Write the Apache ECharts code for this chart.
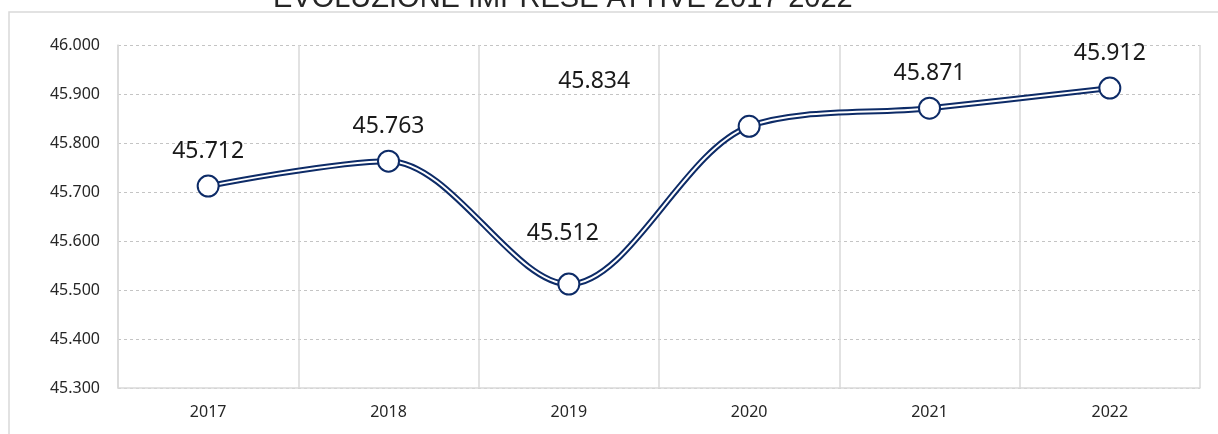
<!DOCTYPE html>
<html>
<head>
<meta charset="utf-8">
<script src="https://cdn.jsdelivr.net/npm/echarts@6/dist/echarts.min.js"></script>
<style>
  html, body { margin: 0; padding: 0; background: #fff; }
  #chart { width: 1218px; height: 434px; }
</style>
</head>
<body>
<div id="chart"></div>
<script>
var titleText = 'EVOLUZIONE IMPRESE ATTIVE 2017-2022';
var years = ['2017', '2018', '2019', '2020', '2021', '2022'];
var imprese = [45712, 45763, 45512, 45834, 45871, 45912];

var navy = '#0d2b67';
var fontFamily = '"Noto Sans", "Open Sans", sans-serif';

function fmt(v) {
    return (v / 1000).toFixed(3);
}

// excel labels were dragged by hand on 2019 and 2020
var labelShift = { 2: [-6, -16], 3: [-155, -10] };

var chart = echarts.init(document.getElementById('chart'));

var option = {
    animation: false,
    title: {
        text: titleText,
        left: 268,
        top: -21,
        textStyle: {
            fontFamily: '"Liberation Sans", Arial, sans-serif',
            fontSize: 29,
            fontWeight: 'normal',
            color: '#262626'
        }
    },
    graphic: [{
        type: 'rect',
        shape: { x: 9, y: 12, width: 1400, height: 600 },
        style: { fill: 'none', stroke: '#d9d9d9', lineWidth: 1.5 },
        silent: true,
        z: -1
    }],
    grid: { left: 118, right: 18, top: 45, bottom: 46 },
    xAxis: {
        type: 'category',
        data: years,
        boundaryGap: true,
        axisLine: { lineStyle: { color: '#d9d9d9', width: 1.5 } },
        axisTick: { show: false },
        splitLine: { show: true, lineStyle: { color: '#d9d9d9', width: 1.5 } },
        axisLabel: { margin: 16, fontSize: 16, color: '#262626', fontFamily: fontFamily }
    },
    yAxis: {
        type: 'value',
        min: 45300,
        max: 46000,
        interval: 100,
        axisLine: { show: true, lineStyle: { color: '#d9d9d9', width: 1.5 } },
        axisTick: { show: false },
        splitLine: { lineStyle: { color: '#c4c4c4', type: [3, 3], width: 1 } },
        axisLabel: {
            margin: 18,
            fontSize: 16,
            color: '#262626',
            fontFamily: fontFamily,
            formatter: fmt
        }
    },
    series: [{
        type: 'line',
        data: imprese,
        smooth: 0.32,
        symbol: 'none',
        lineStyle: { color: navy, width: 6 },
        silent: true,
        z: 2
    }, {
        type: 'line',
        data: imprese.map(function (v, i) {
            var item = { value: v };
            if (labelShift[i]) item.label = { offset: labelShift[i] };
            return item;
        }),
        smooth: 0.32,
        symbol: 'circle',
        symbolSize: 21,
        itemStyle: { color: '#ffffff', borderColor: navy, borderWidth: 2 },
        lineStyle: { color: '#ffffff', width: 2 },
        label: {
            show: true,
            position: 'top',
            distance: 12,
            fontSize: 23,
            color: '#1a1a1a',
            fontFamily: fontFamily,
            formatter: function (p) { return fmt(p.value); }
        },
        z: 3
    }]
};

chart.setOption(option);
</script>
</body>
</html>
